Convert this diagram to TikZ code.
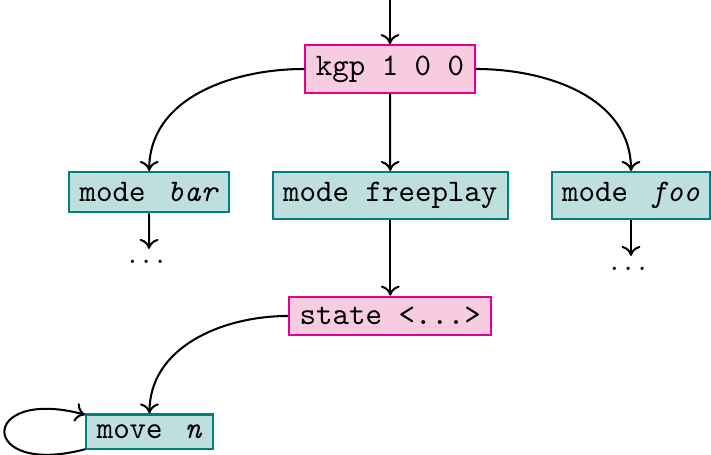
\documentclass[tikz,border=0pt]{standalone}
\usetikzlibrary{arrows.meta}
\definecolor{pinkline}{RGB}{228,0,140}
\definecolor{pinkfill}{RGB}{248,204,224}
\definecolor{tealline}{RGB}{0,128,128}
\definecolor{tealfill}{RGB}{191,223,223}
\newcommand{\mydots}{.\kern1.67pt.\kern1.67pt.\kern1.67pt}
\newcommand{\gapx}{\hspace{1.8pt}}
\begin{document}
\begin{tikzpicture}[x=0.3185pt,y=0.3185pt, line width=0.65pt,
  >={Computer Modern Rightarrow[length=3.2pt,width=6pt]},
  pinkbox/.style={draw=pinkline, fill=pinkfill, font=\ttfamily},
  tealbox/.style={draw=tealline, fill=tealfill, font=\ttfamily}]
\useasboundingbox (0,0) rectangle (711,455);
\node[pinkbox] (kgp) at (390,386) {kgp 1 0 0};
\node[tealbox, anchor=north, minimum width=51pt] (bar) at (149.2,284) {mode \gapx\textit{bar}};
\node[tealbox, anchor=north] (free) at (390.3,284) {mode freeplay};
\node[tealbox, anchor=north, minimum width=50.3pt] (foo) at (631,284) {mode \gapx\textit{foo}};
\node[pinkbox] (state) at (390.3,139) {state <...>};
\node[tealbox, minimum width=39.8pt] (move) at (149.5,23) {move \gapx\textit{n}};
\node[anchor=north] (d1) at (149,206) {\mydots};
\node[anchor=north] (d2) at (631,199) {\mydots};
\coordinate (top) at (390,455);
\draw[->] (top) -- (kgp);
\draw[->] (kgp.west) to[out=180,in=90] (bar.north);
\draw[->] (kgp) -- (free);
\draw[->] (kgp.east) to[out=0,in=90] (foo.north);
\draw[->] (bar.south) -- (d1.north);
\draw[->] (foo.south) -- (d2.north);
\draw[->] (free) -- (state);
\draw[->] (state.west) to[out=180,in=90] (move.north);
\draw[->] (move) to[loop left, looseness=8.3] (move);
\end{tikzpicture}
\end{document}
